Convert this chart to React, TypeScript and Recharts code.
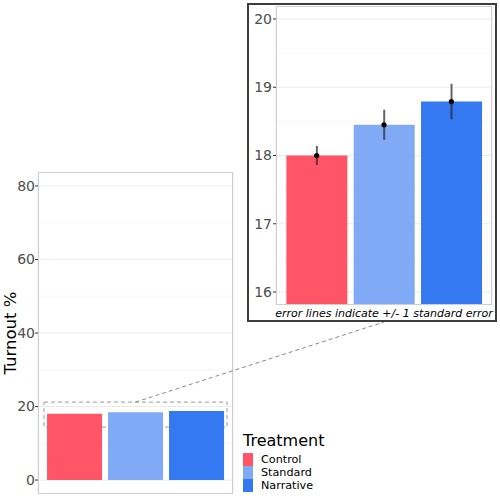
import React from 'react'
import {
  BarChart, ComposedChart, Bar, Line, Cell, XAxis, YAxis, CartesianGrid,
  ErrorBar, ReferenceArea, Legend,
} from 'recharts'

const categories = ['Control', 'Standard', 'Narrative']
const turnout = [18.0, 18.45, 18.79]
const stdError = [0.14, 0.22, 0.26]
const barColors = ['#FF5566', '#80AAF6', '#3479F1']

const mainTicks = [0, 20, 40, 60, 80]
const mainMinor = [10, 30, 50, 70]
const mainDomain = [-3.8, 83.8]
const insetTicks = [16, 17, 18, 19, 20]
const insetMinor = [16.5, 17.5, 18.5, 19.5]
const insetDomain = [15.81, 20.19]
const zoomBox = [14.4, 21.2]

const data = categories.map((treatment, i) => ({
  treatment,
  turnout: turnout[i],
  se: stdError[i],
}))

// layout (page pixels)
const MAIN = { left: 0, top: 160, w: 340, h: 340, plotL: 38, plotT: 12, plotW: 195, plotH: 322 }
const INSET = { left: 247, top: 3, w: 250, h: 319, border: 2, plotL: 27, plotT: 1, plotW: 216, plotH: 299 }

const font = '"DejaVu Sans", Verdana, sans-serif'
const tickStyle = { fontSize: 14, fill: '#4d4d4d' }

function LegendBox() {
  return (
    <div style={{ fontFamily: font, color: '#000' }}>
      <div style={{ fontSize: 16, lineHeight: '16px', marginBottom: 4 }}>Treatment</div>
      {categories.map((c, i) => (
        <div key={c} style={{ display: 'flex', alignItems: 'center', height: 13 }}>
          <div style={{ width: 10, height: 13, background: barColors[i], marginRight: 8 }} />
          <span style={{ fontSize: 11.2, lineHeight: '13px' }}>{c}</span>
        </div>
      ))}
    </div>
  )
}

export default function App() {
  const span = mainDomain[1] - mainDomain[0]
  const x1 = MAIN.left + MAIN.plotL + MAIN.plotW / 2
  const y1 = MAIN.top + MAIN.plotT + ((mainDomain[1] - zoomBox[1]) / span) * MAIN.plotH
  const x2 = INSET.left + INSET.border + INSET.plotL + INSET.plotW / 2
  const y2 = INSET.top + INSET.h

  return (
    <div style={{ position: 'absolute', left: 0, top: 0, width: 500, height: 500, fontFamily: font, background: '#fff' }}>
      <div style={{ position: 'absolute', left: MAIN.left, top: MAIN.top }}>
        <BarChart
          width={MAIN.w}
          height={MAIN.h}
          data={data}
          barCategoryGap="5%"
          margin={{ top: MAIN.plotT, right: MAIN.w - MAIN.plotL - MAIN.plotW, bottom: 0, left: 0 }}
        >
          <CartesianGrid stroke="#f6f6f6" horizontalValues={mainMinor} vertical={false} />
          <CartesianGrid stroke="#ebebeb" horizontalValues={mainTicks} />
          <XAxis
            dataKey="treatment"
            height={6}
            tick={false}
            tickSize={3}
            axisLine={false}
            tickLine={{ stroke: '#333' }}
            padding={{ left: 6, right: 6 }}
          />
          <YAxis
            width={MAIN.plotL}
            domain={mainDomain}
            ticks={mainTicks}
            allowDataOverflow
            axisLine={false}
            tickSize={3}
            tickMargin={0}
            tickLine={{ stroke: '#333' }}
            tick={tickStyle}
            label={{ value: 'Turnout %', angle: -90, position: 'insideLeft', offset: 10, style: { textAnchor: 'middle', fontSize: 16.5, fill: '#000' } }}
          />
          <Bar dataKey="turnout" isAnimationActive={false}>
            {data.map((d, i) => <Cell key={d.treatment} fill={barColors[i]} />)}
          </Bar>
          <ReferenceArea y1={zoomBox[0]} y2={zoomBox[1]} fill="none" stroke="#9a9a9a" strokeDasharray="4 3" />
          <Legend
            layout="vertical"
            align="center"
            verticalAlign="middle"
            wrapperStyle={{ left: 243, top: 273, width: 100 }}
            content={() => <LegendBox />}
          />
        </BarChart>
        <div style={{
          position: 'absolute', left: MAIN.plotL, top: MAIN.plotT, width: MAIN.plotW, height: MAIN.plotH,
          border: '1px solid #cfcfcf', boxSizing: 'border-box', pointerEvents: 'none',
        }} />
      </div>

      <svg width={500} height={500} style={{ position: 'absolute', left: 0, top: 0, pointerEvents: 'none' }}>
        <line x1={x1} y1={y1} x2={x2} y2={y2} stroke="#8a8a8a" strokeWidth={1} strokeDasharray="4 3" />
      </svg>

      <div style={{
        position: 'absolute', left: INSET.left, top: INSET.top, width: INSET.w, height: INSET.h,
        border: `${INSET.border}px solid #3c3c3c`, boxSizing: 'border-box', background: '#fff',
      }}>
        <ComposedChart
          width={INSET.w - 2 * INSET.border}
          height={INSET.h - 2 * INSET.border}
          data={data}
          barCategoryGap="5%"
          margin={{ top: INSET.plotT, right: INSET.w - 2 * INSET.border - INSET.plotL - INSET.plotW, bottom: 0, left: 0 }}
        >
          <CartesianGrid stroke="#f6f6f6" horizontalValues={insetMinor} vertical={false} />
          <CartesianGrid stroke="#ebebeb" horizontalValues={insetTicks} />
          <XAxis
            dataKey="treatment"
            height={15}
            tick={false}
            tickSize={3}
            axisLine={false}
            tickLine={{ stroke: '#333' }}
            padding={{ left: 7, right: 7 }}
            label={{ value: 'error lines indicate +/- 1 standard error', position: 'insideBottom', offset: 3, style: { fontSize: 11, fontStyle: 'italic', fill: '#000' } }}
          />
          <YAxis
            width={INSET.plotL}
            domain={insetDomain}
            ticks={insetTicks}
            allowDataOverflow
            axisLine={false}
            tickSize={3}
            tickMargin={1}
            tickLine={{ stroke: '#333' }}
            tick={tickStyle}
          />
          <Bar dataKey="turnout" isAnimationActive={false}>
            {data.map((d, i) => <Cell key={d.treatment} fill={barColors[i]} />)}
            <ErrorBar dataKey="se" width={0} stroke="#222" strokeWidth={2} strokeOpacity={0.7} />
          </Bar>
          <Line
            dataKey="turnout"
            stroke="none"
            dot={{ r: 2.6, fill: '#000', stroke: 'none' }}
            activeDot={false}
            isAnimationActive={false}
          />
        </ComposedChart>
        <div style={{
          position: 'absolute', left: INSET.plotL, top: INSET.plotT, width: INSET.plotW, height: INSET.plotH,
          border: '1px solid #cfcfcf', boxSizing: 'border-box', pointerEvents: 'none',
        }} />
      </div>
    </div>
  )
}
